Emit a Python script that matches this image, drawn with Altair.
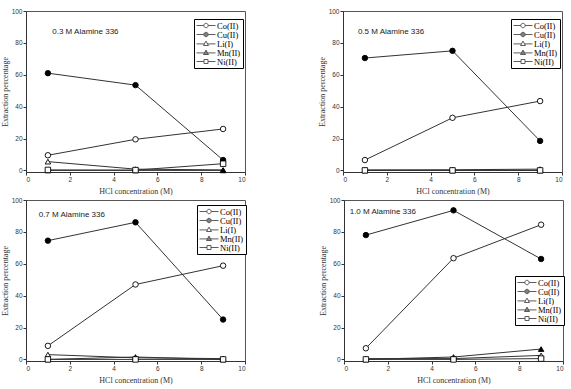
import altair as alt
import pandas as pd

# ---------------- data ----------------
hcl = [1, 5, 9]
metals = ["Co(II)", "Cu(II)", "Li(I)", "Mn(II)", "Ni(II)"]
panels = ["0.3 M Alamine 336", "0.5 M Alamine 336", "0.7 M Alamine 336", "1.0 M Alamine 336"]

co = [[9.5, 19.5, 26.0], [6.5, 33.0, 43.5], [8.5, 47.0, 58.8], [7.0, 63.5, 84.5]]
cu = [[61.0, 53.5, 6.5], [70.5, 75.0, 18.5], [74.5, 86.0, 25.0], [78.0, 93.5, 63.0]]
li = [[5.5, 0.8, 0.3], [0.3, 0.4, 0.8], [3.0, 1.0, 0.5], [0.5, 0.5, 2.5]]
mn = [[0.0, 0.0, 0.0], [0.0, 0.0, 0.0], [0.0, 1.5, 0.0], [0.0, 1.5, 6.5]]
ni = [[0.3, 0.2, 4.2], [0.0, 0.0, 0.0], [0.0, 0.0, 0.0], [0.0, 0.0, 0.5]]

x_ticks = [0, 2, 4, 6, 8, 10]
y_ticks = [0, 20, 40, 60, 80, 100]

# ---------------- styling / layout ----------------
series = {"Co(II)": co, "Cu(II)": cu, "Li(I)": li, "Mn(II)": mn, "Ni(II)": ni}
point_shapes = ["circle", "circle", "triangle-up", "triangle-up", "square"]
fills = ["white", "black", "white", "black", "white"]
strokes = ["black"] * 5

# legend symbols: unit box = sqrt(64) = 8 px, so 1 unit = 4 px; lines span 19 px
L = 2.375
c = 0.55
circ = f"M-{L},0H-{c}M{c},0H{L}M{c},0A{c},{c},0,1,1,-{c},0A{c},{c},0,1,1,{c},0Z"
tri = f"M-{L},0.1H-0.35M0.35,0.1H{L}M0,-0.6L0.62,0.5L-0.62,0.5Z"
sq = f"M-{L},0H-0.5M0.5,0H{L}M-0.5,-0.5H0.5V0.5H-0.5Z"
legend_paths = [circ, circ, tri, tri, sq]

text_pos = [(1.2, 86.7), (0.68, 86.7), (0.58, 90.8), (0.26, 92.3)]
legend_pos = [(168, 8), (168, 8), (171, 5), (171, 76)]

W, H = 219, 161
INK = "#333333"


def panel(i):
    rows = []
    for m in metals:
        for xv, yv in zip(hcl, series[m][i]):
            rows.append({"hcl": xv, "pct": yv, "metal": m})
    df = pd.DataFrame(rows)

    xenc = alt.X("hcl:Q", scale=alt.Scale(domain=[0, 10], nice=False),
                 axis=alt.Axis(values=x_ticks, title="HCl concentration (M)", labelOverlap=False))
    yenc = alt.Y("pct:Q", scale=alt.Scale(domain=[-1, 100], nice=False, zero=False),
                 axis=alt.Axis(values=y_ticks, title="Extraction percentage",
                               labelOverlap=False, labelFlush=False, labelBound=False))

    lines = alt.Chart(df).mark_line(color=INK, strokeWidth=1).encode(
        x=xenc, y=yenc, detail="metal:N")

    pts = alt.Chart(df).mark_point(filled=True, size=30, stroke="black", strokeWidth=0.9, opacity=1).encode(
        x=xenc, y=yenc,
        shape=alt.Shape("metal:N", scale=alt.Scale(domain=metals, range=point_shapes), legend=None),
        fill=alt.Fill("metal:N", scale=alt.Scale(domain=metals, range=fills), legend=None),
    )

    lx, ly = legend_pos[i]
    leg = alt.Legend(title=None, orient="none", legendX=lx, legendY=ly)
    legend_layer = alt.Chart(df).transform_filter("datum.hcl < 0").mark_point(
        filled=True, strokeWidth=0.9).encode(
        shape=alt.Shape("metal:N", scale=alt.Scale(domain=metals, range=legend_paths), legend=leg),
        fill=alt.Fill("metal:N", scale=alt.Scale(domain=metals, range=fills), legend=leg),
        stroke=alt.Stroke("metal:N", scale=alt.Scale(domain=metals, range=strokes), legend=leg),
    )

    tx, ty = text_pos[i]
    tdf = pd.DataFrame({"hcl": [tx], "pct": [ty], "label": [panels[i]]})
    txt = alt.Chart(tdf).mark_text(align="left", baseline="middle", font="Liberation Sans",
                                   fontSize=8, color="#222").encode(
        x=xenc, y=yenc, text="label:N")

    return alt.layer(lines, pts, legend_layer, txt).resolve_scale(
        shape="independent", fill="independent", stroke="independent").properties(width=W, height=H)


top = alt.hconcat(panel(0), panel(1), spacing=71)
bottom = alt.hconcat(panel(2), panel(3), spacing=71)
chart = alt.vconcat(top, bottom, spacing=0).properties(
    padding={"left": 0, "top": 7, "right": 0, "bottom": 0},
    background="white",
).configure_view(stroke="#555555", strokeWidth=1).configure_axis(
    grid=False, tickSize=3, tickColor=INK, domainColor=INK, labelColor=INK, titleColor=INK,
    labelFont="Liberation Sans", labelFontSize=6.5, labelPadding=1, labelOverlap=False,
    titleFont="Liberation Serif", titleFontSize=8, titleFontWeight="normal",
).configure_axisX(titlePadding=5).configure_axisY(titlePadding=2).configure_legend(
    strokeColor="black", fillColor="white", padding=2, cornerRadius=0,
    labelFont="Liberation Serif", labelFontSize=8.5, labelColor="black",
    symbolSize=64, symbolStrokeWidth=0.9, symbolStrokeColor="black",
    rowPadding=0, labelOffset=6.5, symbolOffset=5.5,
)

chart.save("out.html", embed_options={"renderer": "svg", "actions": False})
